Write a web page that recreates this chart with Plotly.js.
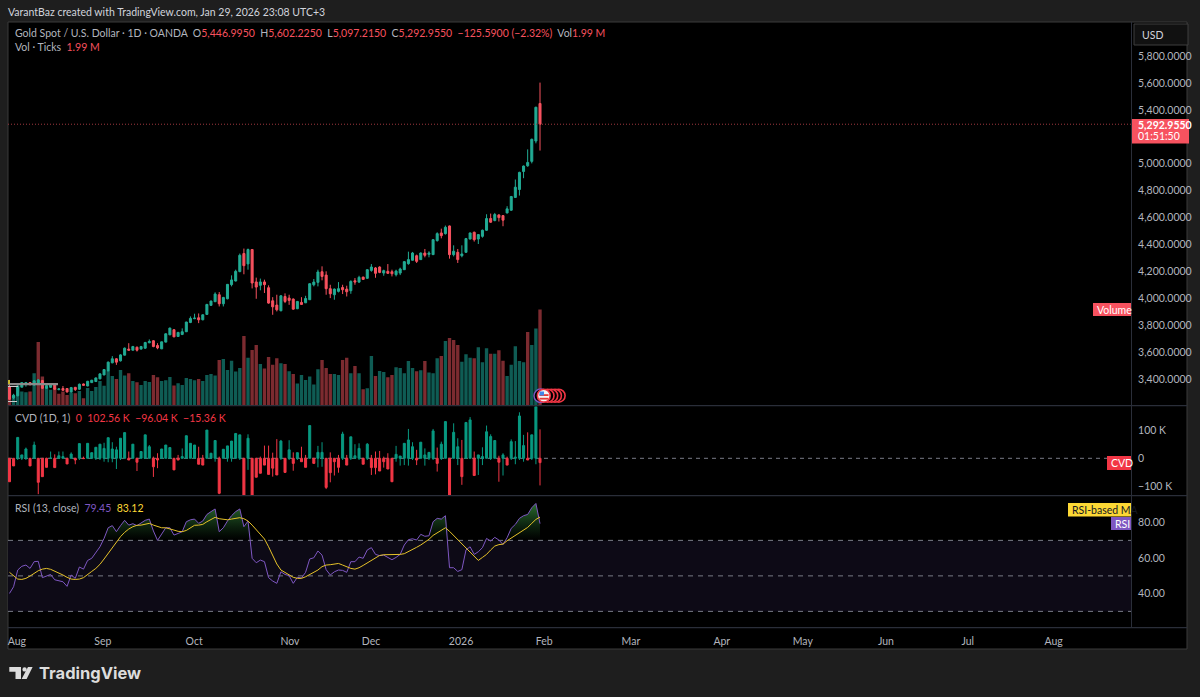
<![CDATA[<!DOCTYPE html>
<html><head><meta charset="utf-8">
<script src="https://cdn.plot.ly/plotly-3.0.1.min.js"></script>
<style>html,body{margin:0;padding:0;background:#1e1e1e}#c{width:1200px;height:697px}</style>
</head><body><div id="c"></div>
<script>
const opens=[3343,3260,3276,3339,3363,3373,3356,3368,3388,3331,
3338,3358,3321,3329,3329,3304,3338,3324,3363,3348,
3373,3381,3401,3430,3460,3520,3550,3535,3577,3622,
3614,3636,3622,3629,3669,3684,3649,3624,3674,3728,
3766,3716,3731,3751,3820,3848,3855,3840,3880,3947,
3974,4026,3959,3996,4101,4128,4198,4332,4255,4362,
4121,4096,4121,4078,3981,3949,3907,4013,4001,3994,
3922,3969,3966,3989,4100,4118,4197,4172,4071,4026,
4051,4080,4068,4056,4130,4120,4157,4148,4207,4225,
4232,4187,4200,4197,4175,4187,4212,4257,4282,4316,
4287,4336,4326,4324,4428,4485,4480,4537,4324,4341,
4316,4341,4440,4490,4440,4460,4505,4592,4577,4619,
4614,4634,4654,4749,4808,4942,4984,5017,5168,5446.995];
const highs=[3393,3290,3352,3376,3378,3376,3391,3400,3393,3356,
3363,3366,3333,3348,3333,3341,3341,3366,3366,3386,
3393,3411,3441,3473,3530,3570,3555,3584,3634,3666,
3646,3641,3646,3676,3694,3689,3666,3678,3738,3782,
3770,3750,3776,3825,3865,3885,3887,3880,3958,3982,
4044,4046,4010,4106,4170,4212,4332,4369,4369,4366,
4153,4146,4138,4096,4008,4026,4024,4036,4026,3998,
3980,4008,4018,4111,4143,4212,4237,4200,4100,4072,
4120,4100,4093,4133,4150,4167,4160,4215,4254,4232,
4237,4212,4254,4212,4212,4227,4276,4346,4344,4324,
4340,4366,4349,4440,4490,4517,4540,4540,4393,4366,
4393,4448,4488,4495,4477,4510,4624,4629,4634,4624,
4618,4684,4760,4882,4940,4986,5106,5186,5423,5602.225];
const lows=[3244,3250,3270,3339,3343,3352,3350,3363,3326,3326,
3333,3319,3316,3314,3299,3299,3311,3319,3351,3346,
3371,3378,3398,3428,3458,3517,3505,3530,3575,3612,
3612,3604,3619,3624,3666,3636,3621,3622,3672,3726,
3711,3714,3726,3749,3815,3845,3815,3836,3876,3945,
3972,3939,3939,3992,4088,4125,4193,4178,4212,4073,
3996,4059,4039,3959,3877,3902,3903,3964,3951,3915,
3919,3951,3964,3987,4088,4088,4133,4026,4001,3989,
4043,4031,4013,4033,4100,4113,4138,4145,4197,4152,
4186,4167,4180,4162,4162,4172,4210,4249,4280,4262,
4284,4304,4304,4322,4421,4445,4473,4294,4311,4262,
4304,4339,4437,4421,4403,4450,4500,4560,4572,4570,
4535,4630,4650,4745,4763,4892,4977,5002,5151,5097.215];
const closes=[3249,3280,3348,3373,3373,3358,3386,3393,3331,3351,
3358,3324,3326,3316,3304,3336,3321,3361,3353,3383,
3391,3408,3438,3470,3525,3550,3525,3579,3629,3614,
3641,3614,3641,3671,3679,3641,3631,3676,3736,3778,
3713,3746,3751,3823,3850,3852,3840,3877,3954,3979,
4031,3959,4006,4103,4136,4200,4319,4242,4362,4113,
4083,4121,4101,3964,3936,3914,4018,3976,3984,3919,
3976,3954,3998,4108,4120,4195,4162,4071,4033,4068,
4071,4063,4048,4125,4120,4155,4140,4212,4232,4185,
4192,4205,4185,4182,4202,4217,4272,4287,4336,4274,
4336,4319,4336,4435,4480,4465,4527,4324,4349,4287,
4329,4443,4485,4435,4473,4505,4592,4565,4622,4599,
4580,4664,4756,4825,4935,4982,5009,5181,5419,5292.955];
const volumesK=[358,200,407,289,276,289,668,1316,599,393,
324,358,241,289,220,269,255,303,152,365,
303,386,510,407,717,613,551,737,620,668,
510,482,427,510,489,634,586,510,524,593,
413,462,427,572,551,524,551,510,634,655,
620,944,965,737,930,703,779,1440,992,1151,
1254,861,765,1006,847,978,875,861,710,655,
455,634,531,599,434,751,944,779,655,655,
634,944,992,668,820,668,338,358,1027,613,
717,696,586,634,792,779,668,923,779,710,
730,923,682,668,978,1027,1337,1399,1357,1254,
909,1061,992,978,1206,896,1185,1075,1075,1144,
930,613,847,1226,923,896,1523,1254,1598,1990];
const volumeDir=[-1,1,1,1,1,-1,1,-1,-1,1,
1,-1,-1,-1,-1,1,-1,1,-1,1,
1,1,1,1,1,1,-1,1,1,-1,
1,-1,1,1,1,-1,-1,1,1,1,
-1,1,1,1,1,1,-1,1,1,1,
1,-1,1,1,1,1,1,-1,1,-1,
-1,1,-1,-1,-1,-1,1,-1,1,-1,
1,1,1,1,1,1,-1,-1,-1,1,
1,-1,-1,1,-1,1,-1,1,1,-1,
1,1,-1,-1,1,1,1,1,1,-1,
1,-1,1,1,1,-1,1,-1,-1,-1,
1,1,1,-1,1,1,1,-1,1,-1,
-1,1,1,1,1,1,-1,1,1,-1];
const cvdClose=[-83,-27,74,12,33,-27,47,-85,-65,-32,
0,-33,9,6,-20,15,-6,52,-1,53,
20,39,50,35,73,33,30,71,91,-6,
50,-14,24,83,41,-30,-6,33,47,38,
-41,-6,6,80,53,47,-21,-24,100,18,
63,-124,32,44,61,88,83,-150,71,-150,
-67,-53,-24,-57,-35,-59,61,-50,30,-18,
20,-12,-32,116,-18,21,21,-103,-51,-12,
-32,86,-24,76,9,35,-21,50,-33,-33,
-45,-12,-38,-83,14,8,53,65,41,-6,
57,12,21,97,-18,50,130,-150,92,41,
-65,127,136,-61,12,6,94,77,63,-14,
12,-24,59,4,150,45,-6,83,184,-15.36];
const cvdHigh=[0,0,74,12,38,0,59,0,0,2,
24,14,24,24,0,21,0,52,6,53,
20,39,50,55,73,57,41,71,91,24,
50,0,24,83,47,6,18,33,47,38,
0,12,35,80,53,47,41,12,100,18,
63,6,32,44,61,88,83,0,85,0,
0,6,45,45,20,68,65,0,64,21,
20,41,12,116,0,44,57,0,21,0,
12,94,12,76,50,53,0,54,12,24,
26,6,18,0,44,8,53,104,57,30,
57,35,21,104,38,59,130,0,124,71,
65,127,146,24,12,39,116,85,63,9,
18,6,67,61,163,83,92,83,184,102.56];
const cvdLow=[-83,-27,-6,-6,-6,-27,0,-127,-65,-32,
0,-33,0,0,-20,0,-21,-6,-1,0,
0,-6,-6,-12,-14,-14,-38,-6,0,-6,
0,-45,0,0,0,-66,-35,0,0,0,
-41,-6,0,0,0,0,-21,-24,0,0,
-12,-127,0,-12,-12,0,-6,-150,-41,-150,
-67,-53,-24,-57,-65,-59,-6,-50,-6,-44,
-6,-12,-32,0,-18,-32,-30,-109,-85,-61,
-51,-6,-24,-6,0,-6,-21,-6,-59,-57,
-45,-33,-38,-83,-12,-26,-24,-26,-6,-24,
0,-26,-6,-6,-47,-6,0,-150,0,-24,
-94,0,0,-61,-59,-24,0,-6,0,-83,
-61,-24,-6,-21,-6,-12,-6,-6,-21,-96.04];
const rsi=[40.1,43.9,53.3,55.4,56.1,54.2,58.0,58.2,49.0,49.7,
50.8,47.8,47.3,46.7,44.1,50.5,48.6,55.0,53.8,58.7,
59.9,62.9,66.4,71.1,77.1,78.3,74.9,78.3,81.3,78.6,
79.4,78.3,79.6,81.3,82.0,75.3,70,73.8,77.1,77.1,
73.0,73.9,74.9,80.5,81.6,82.0,79.6,80.9,84.6,86.2,
87.7,74.9,77.1,80.9,83.9,86.2,87.7,77.7,80.9,59.9,
57.4,58.9,58.0,49.0,47.1,45.8,52.3,50.8,50.1,45.8,
49.2,48.8,52.0,59.5,60.2,64.0,61.7,53.5,50.5,52.3,
53.3,53.1,52.0,58.0,58.0,60.6,59.9,64.6,65.9,62.1,
61.4,61.7,60.4,59.1,60.4,62.1,67.4,70.4,70.9,70.2,
73.4,72.3,72.6,80.5,82.4,82.0,83.9,54.6,54.6,52.5,
53.5,64.6,66.4,62.1,63.6,65.9,71.1,69.6,71.7,70.2,
67.7,71.5,76.8,79.0,82.4,83.9,84.6,88.4,90.8,79.45];
const rsiMA=[52.0,49.9,48.2,48.0,48.6,49.9,51.4,52.9,53.8,54.2,
53.7,52.7,51.8,50.5,49.2,48.2,48.0,48.2,49.0,51.0,
52.5,54.2,56.5,59.5,62.7,66.1,69.2,72.1,74.5,76.4,
77.7,78.5,78.6,79.0,79.6,78.6,77.7,77.1,77.1,76.6,
75.8,75.1,74.9,75.6,77.1,78.5,78.6,79.0,80.5,81.6,
83.0,82.2,81.8,81.6,82.0,82.6,82.8,82.2,80.9,78.6,
75.8,73.4,70.8,66.4,61.2,56.7,53.3,52.0,50.8,49.2,
48.6,48.6,49.5,50.8,52.0,53.3,55.2,56.1,56.3,56.7,
57.0,56.1,55.0,54.2,53.8,54.6,55.9,57.4,58.9,60.4,
61.5,61.9,61.9,61.9,61.9,62.1,62.5,63.6,64.9,66.1,
67.4,68.9,70.6,72.8,74.3,75.6,77.1,75.1,72.8,70.6,
68.3,65.9,63.4,61.2,58.7,60.4,62.1,64.6,66.8,67.6,
67.9,69.8,71.3,73.0,74.5,76.0,77.3,79.6,81.8,83.12];
const monthLabels=['Aug','Sep','Oct','Nov','Dec','2026','Feb','Mar','Apr','May','Jun','Jul','Aug'];
const monthBars=[1.8,22.7,44.9,68.2,87.9,109.8,130,151.1,173.2,192.9,213.1,233,253.9];
const priceTicks=[3400,3600,3800,4000,4200,4400,4600,4800,5000,5400,5600,5800];
const lastPrice=5292.955;

const FONT='Lato, "Noto Sans", sans-serif';
const W=1200,H=697;
const PL=8,PR=1131,PT=22,PB=627;
const px=x=>(x-PL)/(PR-PL), py=y=>(PB-y)/(PB-PT);
const bars=opens.map((_,i)=>i);
const UP='#22ab94',DN='#f7525f',CUP='#089981',CDN='#f23645';
const GRID='#2a2e39',AXT='#b2b5be',FS=10.5;

function ann(x,y,text,o={}){return Object.assign({xref:'paper',yref:'paper',x:px(x),y:py(y),text,showarrow:false,
  xanchor:'left',yanchor:'middle',font:{family:FONT,size:FS,color:'#d1d4dc'},align:'left',borderpad:0},o);}
function rect(x0,y0,x1,y1,fill,o={}){return Object.assign({type:'rect',xref:'paper',yref:'paper',x0:px(x0),x1:px(x1),y0:py(y0),y1:py(y1),
  fillcolor:fill,line:{width:0},layer:'above'},o);}
function circ(cx,cy,r,fill,stroke,lw){return {type:'circle',xref:'paper',yref:'paper',x0:px(cx-r),x1:px(cx+r),y0:py(cy+r),y1:py(cy-r),
  fillcolor:fill,line:{color:stroke,width:lw},layer:'above'};}
function poly(pts,fill){const d='M'+pts.map(p=>px(p[0])+','+py(p[1])).join('L')+'Z';
  return {type:'path',xref:'paper',yref:'paper',path:d,fillcolor:fill,line:{width:0},layer:'above'};}

const rsiTop=rsi.map(v=>Math.max(v,70));
const traces=[
 {type:'bar',x:bars,y:volumesK,xaxis:'x',yaxis:'y',hoverinfo:'skip',width:0.82,
  marker:{color:volumeDir.map(d=>d>0?'#0f5c54':'#7c2b30'),line:{width:0}}},
 {type:'candlestick',x:bars,open:opens,high:highs,low:lows,close:closes,xaxis:'x',yaxis:'y4',whiskerwidth:0,
  increasing:{line:{color:UP,width:1},fillcolor:UP},decreasing:{line:{color:DN,width:1},fillcolor:DN}},
 {type:'candlestick',x:bars,open:bars.map(()=>0),high:cvdHigh,low:cvdLow,close:cvdClose,xaxis:'x',yaxis:'y2',whiskerwidth:0,
  increasing:{line:{color:CUP,width:1},fillcolor:CUP},decreasing:{line:{color:CDN,width:1},fillcolor:CDN}},
 {type:'scatter',mode:'lines',x:bars,y:bars.map(()=>70),xaxis:'x',yaxis:'y3',line:{width:0},hoverinfo:'skip'},
 {type:'scatter',mode:'lines',x:bars,y:rsiTop,xaxis:'x',yaxis:'y3',line:{width:0},fill:'tonexty',hoverinfo:'skip',
  fillgradient:{type:'vertical',start:70,stop:92,colorscale:[[0,'rgba(30,90,40,0)'],[1,'rgba(56,142,60,0.85)']]}},
 {type:'scatter',mode:'lines',x:bars,y:rsi,xaxis:'x',yaxis:'y3',line:{color:'#7e57c2',width:1}},
 {type:'scatter',mode:'lines',x:bars,y:rsiMA,xaxis:'x',yaxis:'y3',line:{color:'#e6c229',width:1}}
];

const tick={family:FONT,size:FS,color:AXT};
const yBase={side:'right',anchor:'x',showgrid:false,zeroline:false,showline:false,ticks:'outside',ticklen:4,tickcolor:'rgba(0,0,0,0)',tickfont:tick,fixedrange:true};
const D1=[(627-405.5)/605,1],D2=[(627-495)/605,(627-406.5)/605],D3=[0,(627-496)/605];
const leg=c=>({family:FONT,size:FS,color:c});

const layout={
 width:W,height:H,paper_bgcolor:'#1e1e1e',plot_bgcolor:'#000000',showlegend:false,dragmode:false,hovermode:false,
 margin:{l:8,r:69,t:22,b:70,pad:0},
 xaxis:{type:'linear',range:[-0.36,272.7],anchor:'y3',showgrid:false,zeroline:false,showline:false,rangeslider:{visible:false},
   tickmode:'array',tickvals:monthBars,ticktext:monthLabels,ticks:'outside',ticklen:4,tickcolor:'rgba(0,0,0,0)',tickfont:tick,fixedrange:true},
 yaxis:{domain:D1,range:[0,7950],visible:false,fixedrange:true},
 yaxis4:Object.assign({},yBase,{overlaying:'y',range:[3203,6052.5],tickmode:'array',tickvals:priceTicks,tickformat:',.4f'}),
 yaxis2:Object.assign({},yBase,{domain:D2,range:[-130,183.5],tickmode:'array',tickvals:[-100,0,100],ticktext:['−100 K','0','100 K']}),
 yaxis3:Object.assign({},yBase,{domain:D3,range:[21.2,95],tickmode:'array',tickvals:[40,60,80],tickformat:'.2f'}),
 shapes:[
  rect(8,22,1187,649,'#000000',{layer:'below',line:{color:'#3a3a3a',width:1}}),
  {type:'rect',xref:'paper',yref:'y3',x0:px(8),x1:px(1131),y0:30,y1:70,fillcolor:'#0d0a16',line:{width:0},layer:'below'},
  {type:'line',xref:'paper',yref:'y3',x0:px(8),x1:px(1131),y0:70,y1:70,line:{color:'#787b86',width:1,dash:'5px,5px'},layer:'below'},
  {type:'line',xref:'paper',yref:'y3',x0:px(8),x1:px(1131),y0:50,y1:50,line:{color:'#787b86',width:1,dash:'5px,5px'},layer:'below'},
  {type:'line',xref:'paper',yref:'y3',x0:px(8),x1:px(1131),y0:30,y1:30,line:{color:'#787b86',width:1,dash:'5px,5px'},layer:'below'},
  {type:'line',xref:'paper',yref:'y2',x0:px(8),x1:px(1131),y0:0,y1:0,line:{color:'#787b86',width:1,dash:'4px,4px'},layer:'below'},
  {type:'line',xref:'paper',yref:'y4',x0:px(8),x1:px(1131),y0:lastPrice,y1:lastPrice,line:{color:'#a0383f',width:1,dash:'1px,2px'},layer:'above'},
  rect(1131,22,1132,627,GRID), rect(8,405,1187,406.3,GRID), rect(8,495,1187,496.3,GRID), rect(8,627,1187,628.3,GRID),
  // left edge drawing remnants
  rect(8,383,58,385.2,'#8a8a8a'), rect(8,386,18,387,'#cccccc'), rect(8,401,17,402,'#cccccc'), rect(8,380,10,384,'#c9b52c'),
  // last price tag, usd button
  {type:'rect',xref:'paper',yref:'paper',x0:px(1134),x1:px(1188),y0:py(45),y1:py(24),fillcolor:'#111111',line:{color:'#3f3f3f',width:1},layer:'above'},
  rect(1132,119,1189,143.5,'#f7525f'),
  rect(1093,303,1131,316,'#f7525f'),
  rect(1107,456,1131,470,'#f23645'),
  rect(1068,503,1131,516.5,'#fdd835'),
  rect(1111,517,1131,530,'#7e57c2'),
  // event flag markers
  circ(540.8,395.7,6.8,'#000','#7e57c2',1.4),
  circ(558.7,395.7,6.4,'#000','#f23645',1.6),circ(555,395.7,6.4,'#000','#f23645',1.6),
  circ(551.3,395.7,6.4,'#000','#f23645',1.6),circ(547.6,395.7,6.4,'#000','#f23645',1.6),
  circ(543.8,395.7,6.4,'#f4f4f4','#f23645',1.6),
  rect(539.5,394.2,548.5,396,'#e53935'),rect(539.5,397.8,548.5,399.6,'#e53935'),rect(539.5,391.5,544,395.5,'#3f86e8'),
  // TradingView logo
  poly([[9.3,667],[21,667],[21,679],[15.5,679],[15.5,671.7],[9.3,671.7]],'#dcdcdc'),
  circ(24.6,669.4,2.2,'#dcdcdc','#dcdcdc',0),
  poly([[28,667],[32.6,667],[26.6,679],[21.6,679]],'#dcdcdc')
 ],
 annotations:[
  ann(7,12,'VarantBaz created with TradingView.com, Jan 29, 2026 23:08 UTC+3'),
  ann(14,33,'Gold Spot / U.S. Dollar · 1D · OANDA  O<span style="color:#f7525f">5,446.9950</span>  H<span style="color:#f7525f">5,602.2250</span>  L<span style="color:#f7525f">5,097.2150</span>  C<span style="color:#f7525f">5,292.9550</span>  <span style="color:#f7525f">−125.5900 (−2.32%)</span>  Vol<span style="color:#f7525f">1.99 M</span>',{font:leg('#b2b5be')}),
  ann(14,46.5,'Vol · Ticks  <span style="color:#f7525f">1.99 M</span>',{font:leg('#b2b5be')}),
  ann(14,418,'CVD (1D, 1)  <span style="color:#f23645">0  102.56 K  −96.04 K  −15.36 K</span>',{font:leg('#b2b5be')}),
  ann(14,508,'RSI (13, close)  <span style="color:#7e57c2">79.45</span>  <span style="color:#fdd835">83.12</span>',{font:leg('#b2b5be')}),
  ann(1141,35,'USD',{font:leg('#d1d4dc')}),
  ann(1137,125,'<b>5,292.9550</b>',{font:leg('#ffffff')}),
  ann(1137,136.5,'01:51:50',{font:leg('#ffffff')}),
  ann(1096,310,'Volume',{font:leg('#ffffff')}),
  ann(1110,463,'CVD',{font:leg('#ffffff')}),
  ann(1071,510,'RSI-based MA',{font:leg('#131722')}),
  ann(1114,524,'RSI',{font:leg('#ffffff')}),
  ann(38,673.5,'<b>TradingView</b>',{font:{family:'Inter, sans-serif',size:16.5,color:'#dcdcdc'}})
 ]
};
Plotly.newPlot('c',traces,layout,{displayModeBar:false,staticPlot:true,responsive:false});
</script></body></html>]]>
